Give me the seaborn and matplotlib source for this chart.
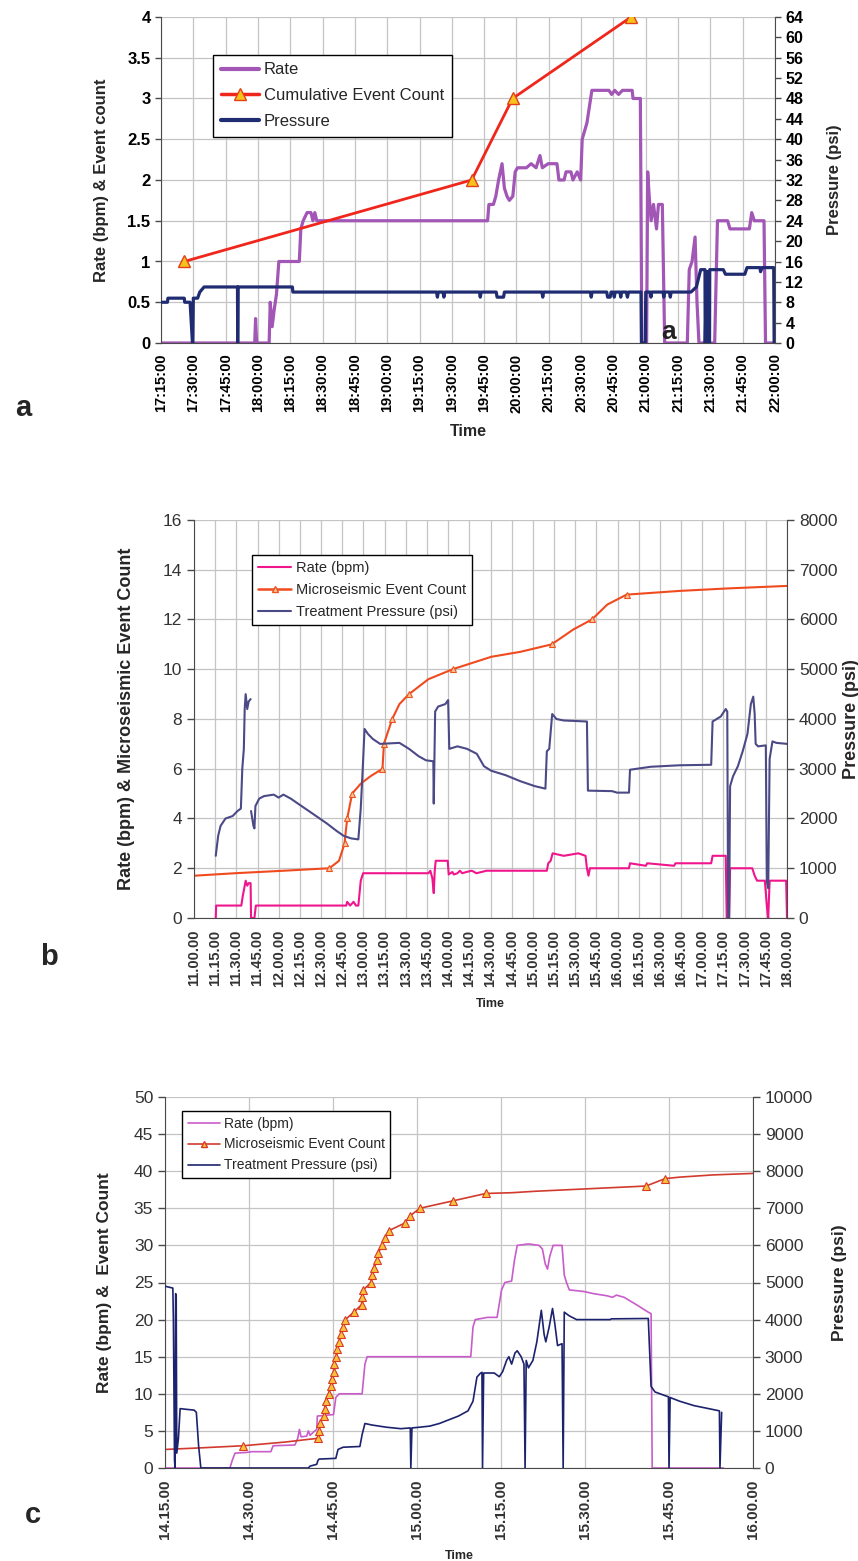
import numpy as np
import pandas as pd
import matplotlib
matplotlib.use("Agg")
import matplotlib.pyplot as plt
import seaborn as sns
from matplotlib.lines import Line2D
from matplotlib.ticker import FuncFormatter, MultipleLocator

sns.set_style("white")
plt.rcParams['font.family'] = ['Liberation Sans', 'DejaVu Sans']

# ---------------- Panel a data (time in minutes after 17:15) ----------------
a_xticklabels = ["17:15:00", "17:30:00", "17:45:00", "18:00:00", "18:15:00", "18:30:00",
                 "18:45:00", "19:00:00", "19:15:00", "19:30:00", "19:45:00", "20:00:00",
                 "20:15:00", "20:30:00", "20:45:00", "21:00:00", "21:15:00", "21:30:00",
                 "21:45:00", "22:00:00"]
a_rate_t = [0, 43.5, 43.9, 44.4, 50.2, 50.7, 51.6, 52.5, 53.6, 54.7, 64.2, 64.9, 66.0, 67.8,
            69.6, 70.5, 71.4, 72.3, 151.6, 152.2, 154.3, 155.4, 156.7, 158.3, 159.4, 160.6,
            161.7, 163.3, 164.4, 165.5, 169.6, 171.8, 174.1, 175.9, 177.0, 179.7, 183.8,
            184.7, 187.1, 188.0, 190.3, 191.2, 193.2, 194.8, 195.5, 196.6, 197.7, 200.0,
            207.9, 209.2, 210.6, 212.4, 214.2, 218.7, 219.1, 222.5, 223.2, 225.4, 225.9,
            226.6, 227.5, 228.6, 230.0, 230.9, 232.7, 233.8, 244.3, 245.2, 246.5, 247.9,
            248.8, 249.7, 257.0, 258.3, 263.0, 264.1, 273.1, 274.2, 275.4, 279.9, 280.6, 285]
a_rate_v = [0, 0, 0.3, 0, 0, 0.5, 0.2, 0.4, 0.6, 1.0, 1.0, 1.4, 1.5, 1.6,
            1.6, 1.5, 1.6, 1.5, 1.5, 1.7, 1.7, 1.8, 2.0, 2.2, 1.9, 1.8,
            1.75, 1.8, 2.1, 2.15, 2.15, 2.2, 2.15, 2.3, 2.15, 2.2, 2.2,
            2.0, 2.0, 2.1, 2.1, 2.0, 2.1, 2.0, 2.5, 2.6, 2.7, 3.1,
            3.1, 3.05, 3.1, 3.05, 3.1, 3.1, 3.0, 3.0, 0, 0, 2.1,
            1.8, 1.5, 1.7, 1.4, 1.7, 1.7, 0, 0, 0.9, 1.0, 1.3,
            0.5, 0, 0, 1.5, 1.5, 1.4, 1.4, 1.6, 1.5, 1.5, 0, 0]
a_press_t = [0, 3, 3.2, 10.8, 11, 13.5, 14.6, 14.8, 15, 17, 18, 20, 35.5, 35.6, 35.8, 61, 61.2,
             127.9, 128.3, 128.7, 130.9, 131.3, 131.7, 147.8, 148.2, 148.6, 155.6, 156, 159,
             159.4, 176.8, 177.2, 177.6, 199.3, 199.7, 200.1, 206.9, 207.3, 208.5, 208.9, 210,
             210.4, 210.8, 213, 213.4, 213.8, 216, 216.5, 217, 222.8, 223, 224.8, 225, 227,
             227.4, 227.8, 233, 233.4, 233.8, 236, 236.4, 236.8, 246, 248.5, 250.5, 252.5,
             252.6, 253.2, 253.3, 254.0, 254.1, 254.6, 254.7, 261, 262, 271, 272, 278, 278.3,
             279, 284.4, 284.6]
a_press_v = [8, 8, 8.8, 8.8, 8, 8, 0, 0, 8.8, 8.8, 10, 11, 11, 0, 11, 11, 10,
             10, 9, 10, 10, 9, 10, 10, 9, 10, 10, 9, 9,
             10, 10, 9, 10, 10, 9, 10, 10, 9, 9, 10, 10,
             9, 10, 10, 9, 10, 10, 9, 10, 10, 0, 0, 10, 10,
             9, 10, 10, 9, 10, 10, 9, 10, 10, 11, 14.4, 14.4,
             0, 14, 0, 14, 0, 0, 14.4, 14.4, 13.5, 13.5, 14.8, 14.8, 14,
             14.8, 14.8, 0]
a_count_t = [10.8, 144.2, 163.2, 218.2]
a_count_v = [1, 2, 3, 4]

# ---------------- Panel b data (time in minutes after 11:00) ----------------
b_xticklabels = ["11.00.00", "11.15.00", "11.30.00", "11.45.00", "12.00.00", "12.15.00",
                 "12.30.00", "12.45.00", "13.00.00", "13.15.00", "13.30.00", "13.45.00",
                 "14.00.00", "14.15.00", "14.30.00", "14.45.00", "15.00.00", "15.15.00",
                 "15.30.00", "15.45.00", "16.00.00", "16.15.00", "16.30.00", "16.45.00",
                 "17.00.00", "17.15.00", "17.30.00", "17.45.00", "18.00.00"]
b_rate_t = [15.4, 15.7, 33.5, 34.6, 35.6, 36.6, 37.7, 38.7, 40.1, 40.4, 42.8, 43.8, 107.8,
            108.5, 110.6, 113, 114.7, 116.4, 118.1, 119.8, 166, 167.4, 168.8, 169.8, 170.5,
            171.2, 179.7, 180.4, 183, 184, 186.6, 188.3, 190, 193, 196.8, 200, 203.7, 207.1,
            249.9, 250.9, 252.6, 254, 261.9, 272.2, 277.3, 278.3, 279.4, 280.4, 308.1, 308.8,
            320, 321, 340, 341, 366.3, 367.3, 376.6, 377.3, 379, 379.7, 395.4, 397.1, 398.8,
            404.3, 405.7, 406.7, 407.7, 419.4, 420]
b_rate_v = [0, 0.5, 0.5, 0.9, 1.2, 1.5, 1.3, 1.4, 1.4, 0, 0, 0.5, 0.5,
            0.65, 0.5, 0.65, 0.5, 0.5, 1.5, 1.8, 1.8, 1.9, 1.6, 1.0, 1.9,
            2.3, 2.3, 1.75, 1.85, 1.75, 1.8, 1.9, 1.8, 1.85, 1.9, 1.8, 1.85, 1.9,
            1.9, 2.2, 2.3, 2.6, 2.5, 2.6, 2.5, 2.0, 1.7, 2.0, 2.0, 2.2,
            2.1, 2.2, 2.1, 2.2, 2.2, 2.5, 2.5, 0, 0, 2.0, 2.0, 1.7, 1.5,
            1.5, 0.5, 0, 1.5, 1.5, 0]
b_count_t = [0, 29.1, 63.3, 95.9, 102.7, 106.1, 106.6, 108.5, 112, 118.1, 125, 133.5, 134.5,
             140.4, 145.5, 152.3, 166, 183.2, 210.5, 231.1, 253.3, 268.7, 281.8, 292.7, 306.4,
             344.1, 378.3, 420]
b_count_v = [1.7, 1.8, 1.9, 2.0, 2.3, 2.9, 3.0, 4.0, 5.0, 5.4, 5.7, 6.0, 7.0,
             8.0, 8.6, 9.0, 9.6, 10.0, 10.5, 10.7, 11.0, 11.6, 12.0, 12.6, 13.0,
             13.15, 13.25, 13.35]
b_press_t = [15.4, 17.1, 18.8, 22.3, 27.4, 30.8, 33.2, 34.2, 35.3, 35.9, 36.6, 37.7, 38.7, 40.1,
             40.4, 42.1, 42.8, 43.5, 46.2, 49.6, 56.5, 59.9, 63.3, 68.5, 73.6, 83.9, 94.1, 101,
             106.1, 111.3, 116.4, 118.1, 119.5, 120.8, 123.2, 126.6, 131.8, 145.5, 152.3, 159.2,
             164.3, 169.5, 169.8, 170.8, 172.9, 178, 180, 180.8, 186.6, 193.4, 200.3, 205.4,
             210.5, 220.8, 231.1, 241.4, 248.9, 249.9, 251.6, 253.7, 256.7, 261.9, 278.3, 279,
             296.1, 299.6, 308.1, 308.8, 323.5, 344.1, 366.3, 367.3, 373.1, 376.6, 377.7, 378.3,
             379, 379.7, 381.8, 385.2, 388.6, 392, 394.4, 396.1, 397.1, 397.8, 399.5, 405,
             405.7, 406.7, 407.7, 409.7, 412.5, 420]
b_press_v = [1250, 1650, 1850, 2000, 2050, 2150, 2200, 3000, 3400, 4200, 4500, 4200, 4350, 4400,
             2150, 1850, 1800, 2250, 2400, 2450, 2480, 2420, 2480, 2400, 2300, 2100, 1900, 1750,
             1650, 1600, 1580, 2200, 3000, 3800, 3700, 3600, 3500, 3520, 3400, 3250,
             3170, 3150, 2300, 4150, 4250, 4300, 4380, 3400, 3450, 3400, 3300, 3050,
             2960, 2870, 2750, 2650, 2600, 3350, 3400, 4100, 4000, 3970, 3950, 2560,
             2550, 2520, 2520, 2980, 3040, 3070, 3080, 3950, 4050, 4200, 4150, 0,
             0, 2650, 2850, 3050, 3350, 3700, 4300, 4450, 4100, 3500, 3450, 3470,
             750, 600, 3200, 3550, 3520, 3500]
b_press_seg = [1] * 14 + [2] * 80

# ---------------- Panel c data (time in minutes after 14:15) ----------------
c_xticklabels = ["14.15.00", "14.30.00", "14.45.00", "15.00.00", "15.15.00", "15.30.00",
                 "15.45.00", "16.00.00"]
c_rate_t = [0, 11.6, 12, 12.5, 14.6, 15.5, 18.9, 19.3, 23.2, 23.7, 24, 24.3, 25.3, 25.6, 25.9,
            26.6, 27.1, 27.2, 30.1, 30.5, 31.1, 35.2, 35.7, 36.1, 54.6, 55, 55.4, 57.6, 59.3,
            60.1, 60.7, 61.9, 62.4, 62.9, 64.9, 66.8, 67.4, 67.9, 68.3, 68.7, 69.3, 70.9, 71.3,
            71.7, 72.2, 74.7, 76.5, 79, 79.9, 80.6, 82, 84.2, 86.3, 86.8, 87, 99.7]
c_rate_v = [0, 0, 1.0, 2.0, 2.1, 2.2, 2.2, 3.0, 3.1, 4.0, 5.2, 4.2, 4.3, 5.0, 4.4,
            4.9, 5.2, 7.0, 7.2, 9.5, 10.0, 10.0, 14.0, 15.0, 15.0, 19.0, 20.0, 20.3, 20.3,
            24.0, 25.0, 25.2, 28.0, 30.0, 30.2, 30.0, 29.5, 27.5, 26.8, 28.5, 30.0, 30.0, 26.0,
            25.0, 24.0, 23.8, 23.5, 23.2, 23.0, 23.3, 23.0, 22.0, 21.0, 20.8, 0, 0]
c_count_t = [0, 6, 14, 21.5, 24.9, 27.3, 27.5, 27.7, 28.4, 28.5, 28.8, 29.2, 29.6, 29.8, 30.1,
             30.2, 30.6, 30.8, 31.1, 31.4, 31.8, 32.2, 33.7, 35.1, 35.2, 35.4, 36.8, 37, 37.4,
             37.8, 38.1, 38.8, 39.3, 40, 42.8, 43.8, 45.5, 51.4, 57.3, 61.9, 66.2, 74.7, 85.9,
             87.6, 89.3, 91.9, 97.9, 105]
c_count_v = [2.5, 2.7, 3, 3.5, 3.8, 4, 5, 6, 7, 8, 9, 10, 11, 12, 13,
             14, 15, 16, 17, 18, 19, 20, 21, 22, 23, 24, 25, 26, 27,
             28, 29, 30, 31, 32, 33, 34, 35, 36, 37, 37.1, 37.3, 37.6, 38,
             38.5, 39, 39.2, 39.5, 39.7]
c_press_t = [0, 1.4, 1.5, 1.7, 1.8, 1.9, 2.0, 2.1, 2.4, 2.7, 3.9, 5.2, 5.6, 6, 6.4, 25.6, 25.9,
             27.1, 27.3, 27.5, 30.5, 30.9, 31.8, 34.8, 35.2, 35.7, 36.9, 39.5, 42.1, 43.8, 43.9,
             44.1, 45.5, 47.3, 49, 50.7, 52.4, 54.1, 55, 55.7, 56.3, 56.6, 56.7, 56.9, 58.8,
             59.7, 60.3, 61, 61.4, 61.9, 62.5, 62.9, 63.6, 64.1, 64.3, 64.5, 64.9, 65.7, 66.4,
             67.2, 67.7, 68, 68.6, 69.2, 69.6, 70.1, 70.9, 71.1, 71.3, 72.2, 73.5, 79.5, 79.7,
             86.3, 86.8, 87.5, 89.3, 89.9, 90, 90.2, 91.9, 94.5, 97.1, 99, 99.1, 99.4]
c_press_v = [4900, 4850, 4000, 200, 0, 4700, 4600, 400, 800, 1600, 1580, 1560, 1500, 600, 0, 0, 50,
             100, 200, 240, 260, 500, 560, 580, 900, 1200, 1160, 1100, 1060, 1080, 0,
             1080, 1100, 1130, 1200, 1300, 1400, 1540, 1800, 2450, 2550, 2580, 0, 2560, 2560,
             2460, 2600, 2900, 3000, 2800, 3100, 3160, 3000, 2800, 0, 2900, 2700, 2900, 3400,
             4250, 3600, 3400, 3800, 4300, 3900, 3300, 3350, 0, 4200, 4100, 4000, 4000, 4020,
             4030, 2200, 2050, 1950, 1920, 0, 1900, 1800, 1680, 1600, 1540, 0, 1500]

# ---------------- drawing ----------------
W, H = 858, 1561
fig = plt.figure(figsize=(W / 100, H / 100), dpi=100)
GRID = "#c4c4c4"
SPINE = "#4a4a4a"
fmt_g = FuncFormatter(lambda v, p: f"{v:g}")


def frame(rect_px):
    l, r, t, b = rect_px
    ax = fig.add_axes([l / W, 1 - b / H, (r - l) / W, (b - t) / H])
    ax2 = ax.twinx()
    ax.set_axisbelow(True)
    for a in (ax, ax2):
        a.spines['top'].set_visible(False)
    ax.spines['right'].set_visible(False)
    ax2.spines['left'].set_visible(False)
    ax2.spines['bottom'].set_visible(False)
    for s in ('left', 'bottom'):
        ax.spines[s].set_color(SPINE)
    ax2.spines['right'].set_color(SPINE)
    ax2.grid(False)
    return ax, ax2


def line(ax, t, v, **kw):
    df = pd.DataFrame({"t": t, "v": v})
    sns.lineplot(data=df, x="t", y="v", ax=ax, sort=False, estimator=None, legend=False, **kw)


# ===== Panel a =====
A_RATE, A_COUNT, A_PRESS = "#a256b6", "#f0261c", "#1f2c72"
ax, ax2 = frame((161, 775, 17, 343))
line(ax, a_rate_t, a_rate_v, color=A_RATE, lw=2.3)
line(ax, a_count_t, a_count_v, color=A_COUNT, lw=2.0, marker="^", markersize=8.5,
     markerfacecolor="#f7c21a", markeredgecolor="#e2401a", markeredgewidth=1)
line(ax2, a_press_t, a_press_v, color=A_PRESS, lw=2.3)
ax.set_xlim(0, 285)
ax.set_ylim(0, 4)
ax2.set_ylim(0, 64)
ax.set_xticks(np.arange(len(a_xticklabels)) * 15)
ax.set_xticklabels(a_xticklabels, rotation=90, fontsize=10.5, fontweight='bold')
ax.yaxis.set_major_locator(MultipleLocator(0.5))
ax.yaxis.set_major_formatter(fmt_g)
ax2.yaxis.set_major_locator(MultipleLocator(4))
ax.grid(True, color=GRID, lw=0.9)
ax.tick_params(axis='both', direction='out', length=4, width=1, colors=SPINE, labelcolor='black')
ax.tick_params(axis='y', labelsize=12)
ax2.tick_params(axis='y', direction='out', length=4, width=1, colors=SPINE, labelcolor='black', labelsize=11.5)
plt.setp(ax.get_yticklabels(), fontweight='bold')
plt.setp(ax2.get_yticklabels(), fontweight='bold')
ax.set_xlabel("Time", fontsize=11.5, fontweight='bold', labelpad=8)
ax.set_ylabel("Rate (bpm) & Event count", fontsize=12, fontweight='bold')
ax.yaxis.set_label_coords(-0.085, 0.5)
ax2.set_ylabel("Pressure (psi)", fontsize=12, fontweight='bold')
ax2.yaxis.set_label_coords(1.085, 0.5)
hA = [Line2D([], [], color=A_RATE, lw=3),
      Line2D([], [], color=A_COUNT, lw=2.5, marker="^", markersize=8,
             markerfacecolor="#f7c21a", markeredgecolor="#e2401a"),
      Line2D([], [], color=A_PRESS, lw=3)]
leg = ax2.legend(hA, ["Rate", "Cumulative Event Count", "Pressure"], loc='upper left',
                 bbox_to_anchor=(213 / W, 1 - 55 / H), bbox_transform=fig.transFigure,
                 fontsize=12, frameon=True, fancybox=False, edgecolor='black', framealpha=1,
                 borderaxespad=0, handlelength=2.3, handletextpad=0.3, labelspacing=0.65,
                 borderpad=0.45)
leg.get_frame().set_linewidth(1.0)
fig.text(669 / W, 1 - 332 / H, "a", fontsize=19, fontweight='bold', ha='center', va='center',
         color='#222222')

# ===== Panel b =====
B_RATE, B_COUNT, B_PRESS = "#f0158c", "#f04a1e", "#4c4a86"
ax, ax2 = frame((194, 787, 520, 918))
line(ax, b_rate_t, b_rate_v, color=B_RATE, lw=1.5)
mk_b = [i for i, v in enumerate(b_count_v) if float(v).is_integer()]
line(ax, b_count_t, b_count_v, color=B_COUNT, lw=1.5, marker="^", markersize=4,
     markevery=mk_b, markerfacecolor="#ffc49a", markeredgecolor="#e8561e", markeredgewidth=0.8)
dfp = pd.DataFrame({"t": b_press_t, "v": b_press_v, "seg": b_press_seg})
sns.lineplot(data=dfp, x="t", y="v", units="seg", ax=ax2, sort=False, estimator=None,
             legend=False, color=B_PRESS, lw=1.5)
ax.set_xlim(0, 420)
ax.set_ylim(0, 16)
ax2.set_ylim(0, 8000)
ax.set_xticks(np.arange(len(b_xticklabels)) * 15)
ax.set_xticklabels(b_xticklabels, rotation=90, fontsize=10.5, fontweight='bold')
ax.yaxis.set_major_locator(MultipleLocator(2))
ax2.yaxis.set_major_locator(MultipleLocator(1000))
ax.grid(True, color=GRID, lw=0.9)
ax.tick_params(axis='both', direction='out', length=5, width=1, colors=SPINE, labelcolor='#333333')
ax.tick_params(axis='y', labelsize=12.5)
ax2.tick_params(axis='y', direction='out', length=5, width=1, colors=SPINE, labelcolor='#333333',
                labelsize=12.5)
ax.set_xlabel("Time", fontsize=9, fontweight='bold', labelpad=8)
ax.set_ylabel("Rate (bpm) & Microseismic Event Count", fontsize=13, fontweight='bold')
ax.yaxis.set_label_coords(-0.1, 0.5)
ax2.set_ylabel("Pressure (psi)", fontsize=13, fontweight='bold')
ax2.yaxis.set_label_coords(1.095, 0.5)
hB = [Line2D([], [], color=B_RATE, lw=1.5),
      Line2D([], [], color=B_COUNT, lw=1.8, marker="^", markersize=4,
             markerfacecolor="#ffc49a", markeredgecolor="#e8561e"),
      Line2D([], [], color=B_PRESS, lw=1.5)]
leg = ax2.legend(hB, ["Rate (bpm)", "Microseismic Event Count", "Treatment Pressure (psi)"],
                 loc='upper left', bbox_to_anchor=(252 / W, 1 - 555 / H),
                 bbox_transform=fig.transFigure, fontsize=10.5, frameon=True, fancybox=False,
                 edgecolor='black', framealpha=1, borderaxespad=0, handlelength=2.3,
                 handletextpad=0.3, labelspacing=0.55, borderpad=0.4)
leg.get_frame().set_linewidth(1.0)

# ===== Panel c =====
C_RATE, C_COUNT, C_PRESS = "#c95ccb", "#d23a2e", "#1c226e"
ax, ax2 = frame((165, 753, 1097, 1468))
line(ax, c_rate_t, c_rate_v, color=C_RATE, lw=1.2)
mk_c = [i for i, v in enumerate(c_count_v) if float(v).is_integer()]
line(ax, c_count_t, c_count_v, color=C_COUNT, lw=1.2, marker="^", markersize=5.5,
     markevery=mk_c, markerfacecolor="#f8c23a", markeredgecolor="#d83a26", markeredgewidth=0.8)
line(ax2, c_press_t, c_press_v, color=C_PRESS, lw=1.2)
ax.set_xlim(0, 105)
ax.set_ylim(0, 50)
ax2.set_ylim(0, 10000)
ax.set_xticks(np.arange(len(c_xticklabels)) * 15)
ax.set_xticklabels(c_xticklabels, rotation=90, fontsize=11, fontweight='bold')
ax.xaxis.set_minor_locator(MultipleLocator(3))
ax.yaxis.set_major_locator(MultipleLocator(5))
ax2.yaxis.set_major_locator(MultipleLocator(1000))
ax.grid(True, which='major', color=GRID, lw=0.9)
ax.tick_params(axis='both', which='both', direction='out', length=5, width=1, colors=SPINE,
               labelcolor='#333333')
ax.tick_params(axis='y', labelsize=12.5)
ax2.tick_params(axis='y', direction='out', length=5, width=1, colors=SPINE, labelcolor='#333333',
                labelsize=12.5)
ax.set_xlabel("Time", fontsize=9, fontweight='bold', labelpad=8)
ax.set_ylabel("Rate (bpm) &  Event Count", fontsize=12.5, fontweight='bold')
ax.yaxis.set_label_coords(-0.09, 0.5)
ax2.set_ylabel("Pressure (psi)", fontsize=12.5, fontweight='bold')
ax2.yaxis.set_label_coords(1.135, 0.5)
hC = [Line2D([], [], color=C_RATE, lw=1.2),
      Line2D([], [], color=C_COUNT, lw=1.2, marker="^", markersize=5,
             markerfacecolor="#f8c23a", markeredgecolor="#d83a26"),
      Line2D([], [], color=C_PRESS, lw=1.2)]
leg = ax2.legend(hC, ["Rate (bpm)", "Microseismic Event Count", "Treatment Pressure (psi)"],
                 loc='upper left', bbox_to_anchor=(182 / W, 1 - 1111 / H),
                 bbox_transform=fig.transFigure, fontsize=10, frameon=True, fancybox=False,
                 edgecolor='black', framealpha=1, borderaxespad=0, handlelength=2.3,
                 handletextpad=0.3, labelspacing=0.5, borderpad=0.4)
leg.get_frame().set_linewidth(1.0)

# panel letters
fig.text(15 / W, 1 - 408 / H, "a", fontsize=21, fontweight='bold', ha='left', va='center')
fig.text(40 / W, 1 - 957 / H, "b", fontsize=21, fontweight='bold', ha='left', va='center')
fig.text(25 / W, 1 - 1515 / H, "c", fontsize=21, fontweight='bold', ha='left', va='center')

fig.savefig("out.png", dpi=100)
